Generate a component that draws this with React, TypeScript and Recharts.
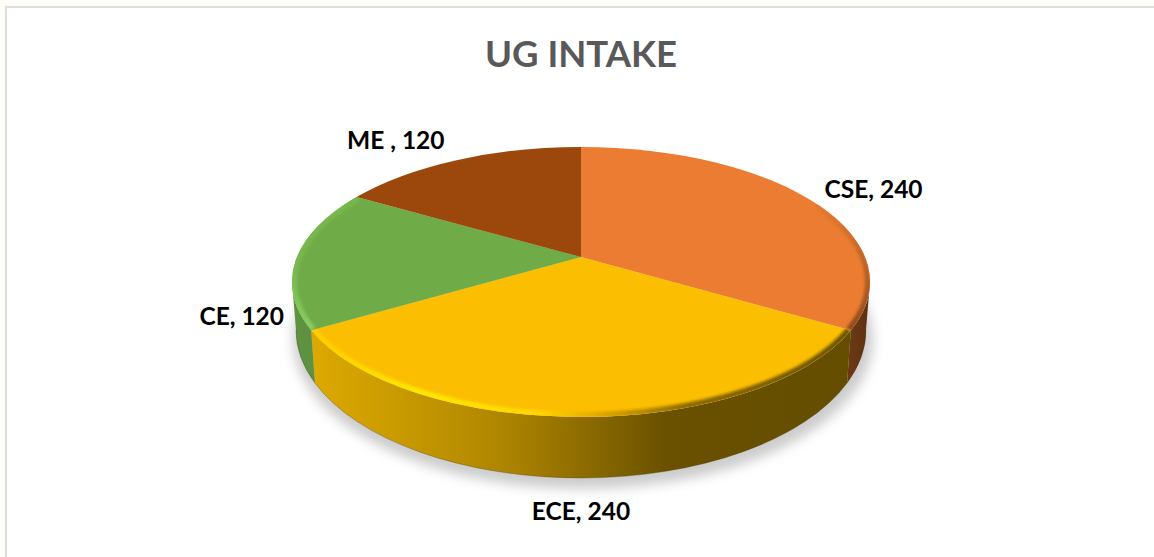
import { Pie, PieChart } from "recharts";

const categories = ["CSE", "ECE", "CE", "ME "];
const intake = [240, 240, 120, 120];
const topColors = ["#EB7C31", "#FCBE00", "#6FAC47", "#9C480C"];
const sideFills = ["url(#sideCse)", "url(#sideEce)", "#5E9140", "#6E3A10"];
const rimStrokes = ["url(#rimCse)", "url(#rimEce)", "url(#rimCe)", "none"];

const data = categories.map((name, i) => ({ name, value: intake[i] }));

// the fake 3D: top face ellipse, lower rim ellipse, hub sits behind the ellipse centre
const TOP = { rx: 289, ry: 135, cy: 282 };
const BOTTOM = { rx: 285, ry: 148, cy: 330 };
const HUB_X = 581;
const HUB_Y = 257;

const LABEL_SHIFT = [
  { dx: 68, dy: -9 },
  { dx: 0, dy: 93 },
  { dx: -55, dy: 58 },
  { dx: -64, dy: -20 },
];

const rad = (deg: number) => (deg * Math.PI) / 180;

// clockwise angle from 12 o'clock, skewed the way the perspective skews it
const warp = (theta: number) => theta - 10.4 * Math.sin(rad(theta));

const onEllipse = (t: number, e: { rx: number; ry: number; cy: number }, inset = 0) => ({
  x: HUB_X + (e.rx - inset) * Math.sin(rad(t)),
  y: e.cy - (e.ry - inset) * Math.cos(rad(t)),
});

function arcTo(t1: number, t2: number, e: { rx: number; ry: number; cy: number }, inset = 0) {
  const p = onEllipse(t2, e, inset);
  const large = Math.abs(t2 - t1) > 180 ? 1 : 0;
  const sweep = t2 > t1 ? 1 : 0;
  return `A ${e.rx - inset} ${e.ry - inset} 0 ${large} ${sweep} ${p.x} ${p.y}`;
}

function Slice(props: any) {
  const i = categories.indexOf(props.name);
  const t1 = warp(90 - props.startAngle);
  const t2 = warp(90 - props.endAngle);
  const a = onEllipse(t1, TOP);
  const topPath = `M ${HUB_X} ${HUB_Y} L ${a.x} ${a.y} ${arcTo(t1, t2, TOP)} Z`;

  const s1 = Math.max(t1, 90);
  const s2 = Math.min(t2, 270);
  let side = null;
  if (s2 > s1) {
    const p = onEllipse(s1, TOP);
    const q = onEllipse(s2, BOTTOM);
    const b = onEllipse(s1, BOTTOM);
    side = (
      <g>
        <path
          d={`M ${p.x} ${p.y} ${arcTo(s1, s2, TOP)} L ${q.x} ${q.y} ${arcTo(s2, s1, BOTTOM)} Z`}
          fill={sideFills[i]}
        />
        <path
          d={`M ${b.x} ${b.y} ${arcTo(s1, s2, BOTTOM)}`}
          fill="none"
          stroke="#3A2C00"
          strokeOpacity={0.3}
          strokeWidth={1}
        />
      </g>
    );
  }

  const r1 = i === 0 ? 55 : t1;
  const rimStart = onEllipse(r1, TOP, 2);
  return (
    <g>
      {side}
      <path d={topPath} fill={topColors[i]} />
      {rimStrokes[i] !== "none" && (
        <g clipPath={`url(#clip${i})`}>
          <clipPath id={`clip${i}`}>
            <path d={topPath} />
          </clipPath>
          <path
            d={`M ${rimStart.x} ${rimStart.y} ${arcTo(r1, t2, TOP, 2)}`}
            fill="none"
            stroke={rimStrokes[i]}
            strokeWidth={6}
            filter="url(#soft)"
          />
        </g>
      )}
    </g>
  );
}

function SliceLabel(props: any) {
  const i = props.index;
  const p = onEllipse(warp(90 - props.midAngle), TOP);
  return (
    <text
      x={p.x + LABEL_SHIFT[i].dx}
      y={p.y + LABEL_SHIFT[i].dy}
      textAnchor="middle"
      dominantBaseline="central"
      fontFamily="Lato, sans-serif"
      fontWeight={700}
      fontSize={24.5}
      fill="#000"
    >
      {`${categories[i]}, ${intake[i]}`}
    </text>
  );
}

export default function App() {
  return (
    <div
      style={{
        position: "absolute",
        left: 0,
        top: 0,
        width: 1154,
        height: 557,
        overflow: "hidden",
        background: "#FFFDF7",
      }}
    >
      <div
        style={{
          position: "absolute",
          left: 5,
          top: 6,
          width: 1160,
          height: 560,
          background: "#fff",
          borderTop: "2px solid #DEDEDE",
          borderLeft: "2px solid #DEDEDE",
        }}
      />
      <div style={{ position: "absolute", left: 0, top: 0 }}>
        <PieChart width={1154} height={557} margin={{ top: 0, right: 0, bottom: 0, left: 0 }}>
          <defs>
            <filter id="soft" x="-10%" y="-10%" width="120%" height="120%">
              <feGaussianBlur stdDeviation="1.4" />
            </filter>
            <filter id="shadow" x="-10%" y="-20%" width="120%" height="140%">
              <feGaussianBlur stdDeviation="6" />
            </filter>
            <linearGradient id="sideEce" gradientUnits="userSpaceOnUse" x1="311" y1="0" x2="847" y2="0">
              <stop offset="0" stopColor="#DDA900" />
              <stop offset="0.17" stopColor="#C89A00" />
              <stop offset="0.36" stopColor="#AE8500" />
              <stop offset="0.5" stopColor="#8F6D00" />
              <stop offset="0.66" stopColor="#6A5100" />
              <stop offset="1" stopColor="#654D00" />
            </linearGradient>
            <linearGradient id="sideCse" gradientUnits="userSpaceOnUse" x1="847" y1="0" x2="870" y2="0">
              <stop offset="0" stopColor="#6E3A16" />
              <stop offset="1" stopColor="#5C3012" />
            </linearGradient>
            <linearGradient id="rimEce" gradientUnits="userSpaceOnUse" x1="311" y1="0" x2="848" y2="0">
              <stop offset="0" stopColor="#FFCC00" />
              <stop offset="0.2" stopColor="#FFEA00" />
              <stop offset="0.42" stopColor="#FFD800" />
              <stop offset="0.52" stopColor="#E8AE00" />
              <stop offset="0.7" stopColor="#8A6800" />
              <stop offset="1" stopColor="#6A5100" />
            </linearGradient>
            <linearGradient id="rimCe" gradientUnits="userSpaceOnUse" x1="0" y1="270" x2="0" y2="330">
              <stop offset="0" stopColor="#78B84E" />
              <stop offset="1" stopColor="#8AD062" />
            </linearGradient>
            <linearGradient id="rimCse" gradientUnits="userSpaceOnUse" x1="0" y1="200" x2="0" y2="330">
              <stop offset="0" stopColor="#EB7C31" />
              <stop offset="1" stopColor="#8A4A1C" />
            </linearGradient>
          </defs>
          <ellipse cx={583} cy={339} rx={290} ry={150} fill="#000" fillOpacity={0.2} filter="url(#shadow)" />
          <text
            x={581}
            y={53}
            textAnchor="middle"
            dominantBaseline="central"
            fontFamily="Lato, sans-serif"
            fontWeight={700}
            fontSize={36.5}
            fill="#595959"
          >
            UG INTAKE
          </text>
          <Pie
            data={data}
            dataKey="value"
            nameKey="name"
            cx={HUB_X}
            cy={HUB_Y}
            outerRadius={TOP.rx}
            startAngle={90}
            endAngle={-270}
            stroke="none"
            shape={Slice}
            label={SliceLabel}
            labelLine={false}
            isAnimationActive={false}
          />
        </PieChart>
      </div>
    </div>
  );
}
